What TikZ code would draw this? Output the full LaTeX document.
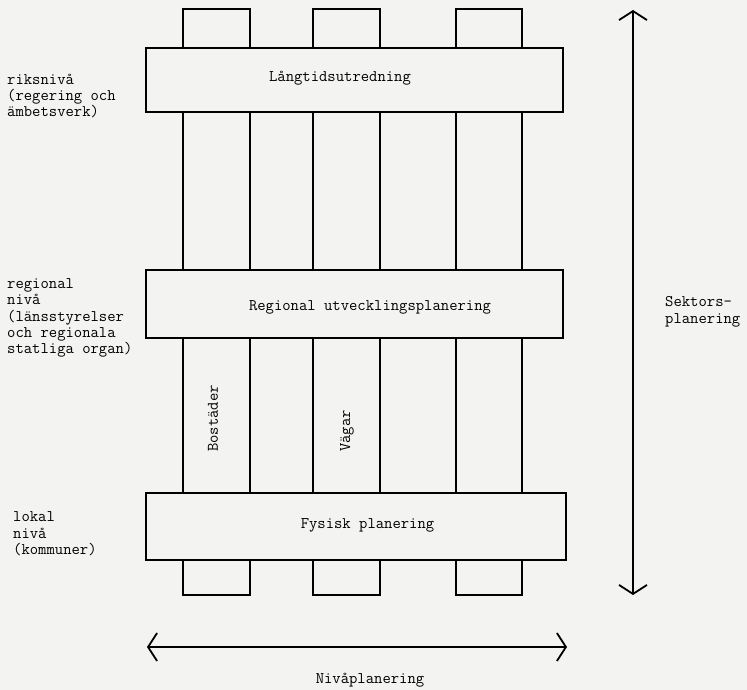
\documentclass[tikz,border=0pt]{standalone}
\usepackage{fontspec}
\usetikzlibrary{arrows.meta}
\definecolor{papier}{RGB}{243,243,241}
\begin{document}
\begin{tikzpicture}[x=1pt, y=-1pt, >={Straight Barb[length=9pt,width=28pt]},
	every node/.style={font=\fontsize{16.2}{16.4}\selectfont\ttfamily, inner sep=0pt},
	saeule/.style={draw, line width=1.8pt, minimum width=67pt, minimum height=586pt},
	ebene/.style={draw, fill=papier, line width=1.8pt, minimum width=417pt}]
	
	% Hintergrund
	\fill[papier] (0,0) rectangle (747,690);
	\useasboundingbox (0,0) rectangle (747,690);
	
	% Saeulen (Sektoren)
	\node[saeule] (bost) at (216.5,302) {};
	\node[saeule] (vaeg) at (346.5,302) {};
	\node[saeule, minimum width=66pt] (sek3) at (489,302) {};
	
	% Ebenen
	\node[ebene, minimum height=64pt] (riks) at (354.5,80) {};
	\node[ebene, minimum height=68pt] (reg) at (354.5,304) {};
	\node[ebene, minimum width=420pt, minimum height=67pt] (lok) at (356,526.5) {};
	
	% Texte in den Kaesten
	\node (riksT) at (340,78) {Långtidsutredning};
	\node (regT) at (370,307) {Regional utvecklingsplanering};
	\node (lokT) at (367.5,525) {Fysisk planering};
	\node[rotate=90, anchor=west] (bostT) at (213,452) {Bostäder};
	\node[rotate=90, anchor=west] (vaegT) at (347,452) {Vägar};
	
	% Pfeile
	\coordinate (sekOben) at (633,10);
	\coordinate (sekUnten) at (633,595);
	\draw[<->, line width=1.8pt] (sekUnten) -- (sekOben);
	\coordinate (nivLinks) at (147,647);
	\coordinate (nivRechts) at (567,647);
	\draw[<->, line width=1.8pt] (nivLinks) -- (nivRechts);
	
	% Beschriftungen links
	\node[anchor=west, align=left] (riksL) at (7,96) {riksnivå\\(regering och\\ämbetsverk)};
	\node[anchor=west, align=left] (regL) at (7,318) {regional\\nivå\\(länsstyrelser\\och regionala\\statliga organ)};
	\node[anchor=west, align=left] (lokL) at (13,534) {lokal\\nivå\\(kommuner)};
	
	% Beschriftungen Pfeile
	\node[anchor=west, align=left] (sekL) at (665,312) {Sektors-\\planering};
	\node (nivL) at (370,680) {Nivåplanering};
\end{tikzpicture}
\end{document}
